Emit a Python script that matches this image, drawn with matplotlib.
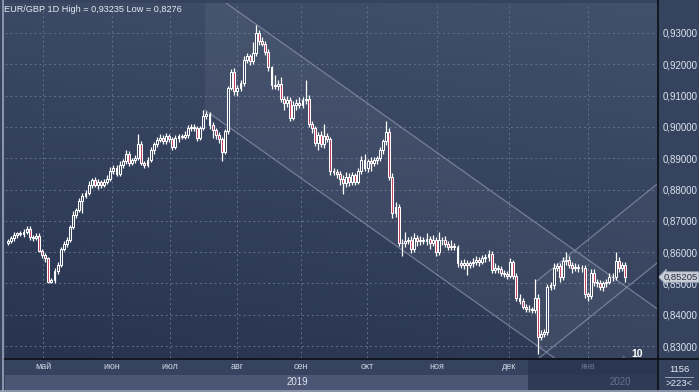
import numpy as np
import matplotlib
matplotlib.use("Agg")
import matplotlib.pyplot as plt
from matplotlib.patches import Rectangle
from matplotlib.lines import Line2D

plt.rcParams['font.family'] = ['Liberation Sans', 'DejaVu Sans']

# ---- data (EUR/GBP daily) ----
closes = [
    0.8635, 0.8645, 0.8655, 0.8660, 0.8658, 0.8665, 0.8675, 0.8650, 0.8645, 0.8652,
    0.8605, 0.8590, 0.8580, 0.8505, 0.8510, 0.8540, 0.8560, 0.8610, 0.8625, 0.8640,
    0.8680, 0.8720, 0.8735, 0.8765, 0.8780, 0.8790, 0.8815, 0.8830, 0.8815, 0.8825,
    0.8815, 0.8825, 0.8835, 0.8860, 0.8870, 0.8850, 0.8880, 0.8890, 0.8915, 0.8885,
    0.8895, 0.8900, 0.8945, 0.8885, 0.8880, 0.8895, 0.8925, 0.8945, 0.8958, 0.8965,
    0.8955, 0.8970, 0.8960, 0.8935, 0.8965, 0.8970, 0.8968, 0.8975, 0.8995, 0.9000,
    0.8995, 0.8965, 0.8997, 0.9035, 0.9040, 0.9005, 0.8990, 0.8975, 0.8960, 0.8920,
    0.8986, 0.9123, 0.9175, 0.9115, 0.9125, 0.9140, 0.9215, 0.9225, 0.9210, 0.9235,
    0.9300, 0.9275, 0.9265, 0.9240, 0.9190, 0.9135, 0.9130, 0.9138, 0.9090, 0.9075,
    0.9085, 0.9030, 0.9070, 0.9078, 0.9070, 0.9085, 0.9090, 0.9010, 0.8995, 0.8950,
    0.8975, 0.8945, 0.8970, 0.8960, 0.8860, 0.8855, 0.8850, 0.8835, 0.8820, 0.8840,
    0.8825, 0.8845, 0.8825, 0.8860, 0.8895, 0.8870, 0.8890, 0.8885, 0.8895, 0.8900,
    0.8925, 0.8955, 0.8985, 0.8840, 0.8725, 0.8745, 0.8630, 0.8628, 0.8635, 0.8640,
    0.8610, 0.8645, 0.8635, 0.8640, 0.8635, 0.8642, 0.8630, 0.8640, 0.8600, 0.8640,
    0.8638, 0.8625, 0.8618, 0.8620, 0.8615, 0.8565, 0.8560, 0.8565, 0.8560, 0.8565,
    0.8570, 0.8575, 0.8570, 0.8580, 0.8585, 0.8595, 0.8542, 0.8550, 0.8545, 0.8535,
    0.8530, 0.8525, 0.8568, 0.8525, 0.8455, 0.8445, 0.8425, 0.8420, 0.8418, 0.8415,
    0.8455, 0.8330, 0.8340, 0.8345, 0.8490, 0.8495, 0.8550, 0.8555, 0.8520, 0.8572,
    0.8575, 0.8560, 0.8550, 0.8552, 0.8548, 0.8550, 0.8465, 0.8460, 0.8535, 0.8505,
    0.8500, 0.8490, 0.8500, 0.8505, 0.8520, 0.8522, 0.8573, 0.8550, 0.8560, 0.85205,
]
first_open = 0.8630
# wick lengths above / below the body, in pips
wick_up = [
    6, 8, 10, 6, 8, 10, 10, 8, 6, 8,
    8, 6, 8, 6, 6, 10, 8, 6, 10, 8,
    8, 10, 6, 8, 8, 10, 12, 8, 10, 8,
    6, 8, 10, 12, 8, 8, 10, 8, 10, 8,
    6, 10, 34, 10, 6, 8, 10, 8, 10, 12,
    8, 10, 6, 8, 10, 6, 8, 12, 10, 8,
    10, 8, 6, 20, 10, 8, 10, 6, 8, 8,
    6, 8, 10, 12, 8, 10, 12, 10, 8, 35,
    24, 10, 12, 8, 10, 6, 30, 12, 20, 10,
    15, 10, 12, 10, 18, 12, 60, 12, 10, 8,
    10, 12, 40, 12, 8, 10, 12, 8, 10, 15,
    12, 10, 8, 10, 12, 20, 8, 15, 10, 8,
    10, 8, 33, 10, 12, 15, 10, 12, 30, 10,
    12, 15, 10, 12, 10, 20, 10, 15, 10, 25,
    10, 15, 12, 20, 10, 8, 10, 12, 10, 8,
    10, 12, 8, 10, 8, 12, 10, 15, 8, 10,
    8, 10, 12, 8, 8, 10, 8, 10, 12, 8,
    60, 10, 12, 10, 8, 10, 15, 12, 10, 12,
    25, 12, 10, 15, 10, 8, 10, 8, 10, 12,
    10, 12, 8, 10, 12, 10, 27, 12, 10, 8,
]
wick_dn = [
    8, 6, 8, 10, 6, 8, 6, 10, 8, 6,
    6, 8, 10, 5, 5, 8, 10, 8, 6, 10,
    8, 6, 10, 8, 40, 8, 6, 10, 8, 12,
    10, 8, 6, 8, 10, 8, 6, 10, 8, 10,
    8, 10, 6, 8, 12, 8, 6, 10, 8, 6,
    10, 8, 8, 10, 6, 12, 8, 6, 10, 8,
    8, 10, 6, 8, 10, 12, 25, 15, 10, 30,
    8, 10, 6, 12, 15, 10, 8, 10, 12, 8,
    10, 12, 8, 10, 12, 15, 10, 12, 10, 20,
    10, 12, 8, 15, 10, 8, 12, 10, 15, 10,
    25, 10, 12, 8, 15, 10, 12, 20, 34, 12,
    15, 10, 12, 8, 10, 12, 15, 25, 10, 12,
    8, 10, 12, 10, 15, 12, 10, 40, 12, 10,
    12, 10, 15, 12, 10, 12, 20, 10, 12, 10,
    15, 10, 12, 10, 8, 12, 10, 15, 32, 10,
    12, 10, 15, 8, 10, 12, 10, 8, 12, 10,
    10, 12, 8, 10, 12, 10, 8, 12, 10, 10,
    10, 54, 10, 12, 8, 10, 12, 10, 15, 10,
    12, 10, 15, 10, 12, 10, 12, 15, 10, 12,
    10, 12, 15, 10, 8, 12, 10, 12, 10, 15,
]

months = ['май', 'июн', 'июл', 'авг', 'сен', 'окт', 'ноя', 'дек', 'янв']
month_pos = [11.3, 33.5, 52.3, 73.9, 94.5, 115.8, 138.4, 161.6, 187.1]
years = ['2019', '2020']
year_pos = [93.5, 197.4]
price_ticks = [0.83, 0.84, 0.85, 0.86, 0.87, 0.88, 0.89, 0.90, 0.91, 0.92, 0.93]

# drawn trend channels: (bar, price) anchors
down_upper = [(78.0, 0.9342), (168.0, 0.8710)]
down_lower_start = (63.5, 0.9054)
up_lower = [(170.6, 0.8256), (203.9, 0.8522)]
up_upper_start = (171.0, 0.8511)

# ---- derived ----
c = np.array(closes)
o = np.concatenate([[first_open], c[:-1]])
hi = np.maximum(o, c) + np.array(wick_up) * 1e-4
lo = np.minimum(o, c) - np.array(wick_dn) * 1e-4
x = np.arange(len(c))
up = c >= o

W, H = 699, 392
fig = plt.figure(figsize=(W / 100, H / 100), dpi=100, facecolor='#36435f')

def fx(px):
    return px / W

def fy(py):
    return 1 - py / H

XMIN, XMAX = -0.97, 209.35
YMIN, YMAX = 0.8262, 0.93958

ax = fig.add_axes([fx(5), fy(358), fx(652), (358 - 3) / H])
ax.set_xlim(XMIN, XMAX)
ax.set_ylim(YMIN, YMAX)

# background gradient
gy, gx = np.mgrid[0:1:120j, 0:1:200j]
top = np.array([66, 80, 108]) / 255
bot = np.array([40, 52, 79]) / 255
t = (0.75 * gy + 0.25 * gx)[..., None]
img = bot + (top - bot) * t
ax.imshow(img, extent=(XMIN, XMAX, YMIN, YMAX), origin='lower', aspect='auto',
          interpolation='bilinear', zorder=0)

# grid
for yv in price_ticks:
    ax.axhline(yv, color='#62708c', lw=0.7, ls=(0, (2, 3)), zorder=1)
for xv in month_pos:
    ax.axvline(xv, color='#62708c', lw=0.7, ls=(0, (2, 3)), zorder=1)

# descending channel
slope_d = (down_upper[1][1] - down_upper[0][1]) / (down_upper[1][0] - down_upper[0][0])
xs = np.array([down_lower_start[0], XMAX])
upper_d = down_upper[0][1] + slope_d * (xs - down_upper[0][0])
lower_d = down_lower_start[1] + slope_d * (xs - down_lower_start[0])
ax.fill_between(xs, lower_d, upper_d, color='white', alpha=0.05, lw=0, zorder=1)
ax.plot(xs, upper_d, color='#8c97ae', lw=0.9, alpha=0.7, zorder=1)
ax.plot(xs, lower_d, color='#8c97ae', lw=0.9, alpha=0.7, zorder=1)

# rising channel
slope_u = (up_lower[1][1] - up_lower[0][1]) / (up_lower[1][0] - up_lower[0][0])
xr = np.array([up_lower[0][0], XMAX])
lower_u = up_lower[0][1] + slope_u * (xr - up_lower[0][0])
upper_u = up_upper_start[1] + slope_u * (xr - up_upper_start[0])
ax.fill_between(xr, lower_u, upper_u, color='white', alpha=0.035, lw=0, zorder=1)
ax.plot(xr, upper_u, color='#8c97ae', lw=0.9, alpha=0.7, zorder=1)
ax.plot(xr, lower_u, color='#8c97ae', lw=0.9, alpha=0.7, zorder=1)

# candles
ax.vlines(x, lo, hi, color='white', lw=0.9, zorder=3)
body_lo = np.minimum(o, c)
body_h = np.maximum(np.abs(c - o), 0.00008)
ax.bar(x[up], body_h[up], bottom=body_lo[up], width=0.62, color='#34405c',
       edgecolor='white', linewidth=0.75, zorder=4)
ax.bar(x[~up], body_h[~up], bottom=body_lo[~up], width=0.62, color='#c23a5c',
       edgecolor='white', linewidth=0.75, zorder=4)

# axes styling
ax.yaxis.tick_right()
ax.set_yticks(price_ticks)
ax.set_yticklabels([f'{v:.5f}'.replace('.', ',') for v in price_ticks],
                   color='#dde3ee', fontsize=7)
ax.tick_params(axis='y', length=0, pad=4)
ax.set_xticks([])
for s in ax.spines.values():
    s.set_visible(False)

# last price marker
ax.text(1.0 + 7 / 652, closes[-1], f'{closes[-1]:.5f}'.replace('.', ','),
        transform=ax.get_yaxis_transform(), fontsize=6.8, color='#2a2f3a',
        va='center', ha='left', zorder=10,
        bbox=dict(boxstyle='larrow,pad=0.08', fc='#c9ced8', ec='#9aa2b2', lw=0.6),
        clip_on=False)

ax.text(0.960, -0.004, '10', transform=ax.transAxes, fontsize=7.5, color='white',
        fontweight='bold', ha='left', va='bottom', zorder=10)
ax.text(0.944, -0.004, '\u25b2', transform=ax.transAxes, fontsize=4, color='#56627c',
        ha='left', va='bottom', zorder=10)

fig.text(fx(4), fy(12), 'EUR/GBP 1D High = 0,93235 Low = 0,8276', fontsize=6.6,
         color='#e6ebf3', ha='left', va='baseline')

# bottom time band
axb = fig.add_axes([fx(5), fy(390), fx(652), 32 / H])
axb.set_xlim(XMIN, XMAX)
axb.set_ylim(0, 1)
axb.axis('off')
split = 15 / 32
axb.add_patch(Rectangle((XMIN, split), XMAX - XMIN, 1 - split, color='#36435f', lw=0))
axb.add_patch(Rectangle((XMIN, 0), XMAX - XMIN, split, color='#4a5674', lw=0))
fut = 167.7
axb.add_patch(Rectangle((fut, split), XMAX - fut, 1 - split, color='#2b3652', lw=0))
axb.add_patch(Rectangle((fut, 0), XMAX - fut, split, color='#2e3a56', lw=0))
for lab, p in zip(months, month_pos):
    col = '#68748e' if lab == 'янв' else '#cdd5e4'
    axb.text(p, 0.72, lab, ha='center', va='center', fontsize=6.5, color=col)
for lab, p in zip(years, year_pos):
    col = '#68748e' if lab == '2020' else '#dde3ee'
    axb.text(p, 0.24, lab, ha='center', va='center', fontsize=7, color=col)

# corner cell
fig.patches.append(Rectangle((fx(658), fy(390)), fx(41), 32 / H, color='#34415d',
                             transform=fig.transFigure, zorder=0))
fig.text(fx(679), fy(370), '1156', fontsize=6.8, color='#e6ebf3', ha='center', va='center')
fig.text(fx(679), fy(384), '>223<', fontsize=6.8, color='#e6ebf3', ha='center', va='center')
fig.lines.append(Line2D([fx(665), fx(693)], [fy(377), fy(377)], color='#aab2c2', lw=0.6,
                        transform=fig.transFigure))

# separators and frame
fig.lines.append(Line2D([fx(657.5), fx(657.5)], [0, 1], color='#0c0f16', lw=1.2,
                        transform=fig.transFigure, zorder=20))
fig.lines.append(Line2D([fx(3), 1], [fy(358.5), fy(358.5)], color='#0c0f16', lw=1.2,
                        transform=fig.transFigure, zorder=20))
fig.lines.append(Line2D([fx(2.5), fx(2.5)], [0, 1], color='#9ba4b6', lw=1.2,
                        transform=fig.transFigure, zorder=20))
fig.lines.append(Line2D([0, 1], [fy(390.5), fy(390.5)], color='#9ba4b6', lw=1.2,
                        transform=fig.transFigure, zorder=20))

fig.savefig('out.png', dpi=100, facecolor=fig.get_facecolor())
